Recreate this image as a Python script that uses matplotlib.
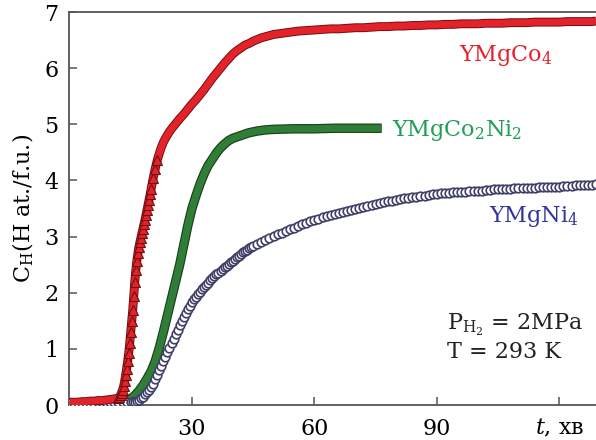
import matplotlib
matplotlib.use("Agg")
import matplotlib.pyplot as plt
import matplotlib.patheffects as pe

plt.rcParams["font.family"] = "DejaVu Serif"
plt.rcParams["mathtext.fontset"] = "dejavuserif"

# YMgCo4 (red triangles), time in min, C_H in H at./f.u.
t_co4 = [0, 1, 2, 3, 4, 5, 6, 7, 8, 9, 10, 11,
         12.0, 12.25, 12.5, 12.75, 13.0, 13.25, 13.5, 13.75, 14.0, 14.25, 14.5, 14.75,
         15.0, 15.25, 15.5, 15.75, 16.0, 16.25, 16.5, 16.75, 17.0, 17.25, 17.5, 17.75,
         18.0, 18.25, 18.5, 18.75, 19.0, 19.25, 19.5, 19.75, 20.0, 20.5, 21, 21.5,
         22, 22.5, 23, 23.5, 24, 24.5, 25, 26, 27, 28, 29, 30, 31, 32, 33, 34, 35,
         36, 37, 38, 39, 40, 41, 42, 43, 44, 45, 46, 47, 48, 49, 50, 52, 54, 56, 58,
         60, 62, 64, 66, 68, 70, 72, 74, 76, 78, 80, 82, 84, 86, 88, 90, 92, 94, 96,
         98, 100, 102, 104, 106, 108, 110, 112, 114, 116, 118, 120, 122, 124, 126, 128, 129]
c_co4 = [0.05, 0.05, 0.05, 0.06, 0.06, 0.07, 0.07, 0.08, 0.08, 0.09, 0.10, 0.11,
         0.12, 0.14, 0.18, 0.22, 0.27, 0.33, 0.42, 0.53, 0.65, 0.78, 0.92, 1.10,
         1.30, 1.50, 1.70, 1.95, 2.20, 2.40, 2.57, 2.70, 2.81, 2.90, 2.98, 3.06,
         3.14, 3.22, 3.30, 3.39, 3.48, 3.57, 3.66, 3.75, 3.85, 4.04, 4.21, 4.36,
         4.48, 4.59, 4.68, 4.75, 4.81, 4.87, 4.92, 5.01, 5.10, 5.18, 5.27, 5.36, 5.44, 5.53, 5.62, 5.72, 5.82,
         5.91, 6.00, 6.09, 6.17, 6.25, 6.31, 6.36, 6.41, 6.44, 6.48, 6.51, 6.54, 6.56, 6.58, 6.60, 6.62, 6.64, 6.66, 6.67,
         6.68, 6.69, 6.70, 6.70, 6.71, 6.72, 6.72, 6.73, 6.74, 6.74, 6.75, 6.75, 6.76, 6.76, 6.77, 6.77, 6.78, 6.78, 6.79,
         6.79, 6.79, 6.80, 6.80, 6.80, 6.81, 6.81, 6.81, 6.82, 6.82, 6.82, 6.82, 6.83, 6.83, 6.83, 6.83, 6.84]

# YMgCo2Ni2 (green)
t_coni = [0, 1, 2, 3, 4, 5, 6, 7, 8, 9, 10, 11, 12, 13, 14, 15, 16, 17, 18, 19, 20,
          21, 22, 23, 24, 25, 26, 27, 28, 29, 30, 31, 32, 33, 34, 35, 36, 37, 38, 39, 40,
          42, 44, 46, 48, 50, 55, 60, 65, 70, 76.5]
c_coni = [0.04, 0.04, 0.04, 0.04, 0.04, 0.05, 0.05, 0.05, 0.05, 0.05, 0.05, 0.05, 0.05, 0.06, 0.07,
          0.11, 0.17, 0.25, 0.35, 0.47, 0.60, 0.78, 1.02, 1.30, 1.60, 1.90, 2.20, 2.50, 2.85,
          3.20, 3.50, 3.73, 3.94, 4.12, 4.27, 4.38, 4.49, 4.58, 4.65, 4.71, 4.75,
          4.80, 4.85, 4.88, 4.90, 4.91, 4.92, 4.92, 4.93, 4.93, 4.93]

# YMgNi4 (open circles)
t_ni4 = [0, 1, 2, 3, 4, 5, 6, 7, 8, 9, 10, 11, 12, 13, 14, 15,
         15.5, 16, 16.5, 17, 17.5, 18, 18.5, 19, 19.5, 20, 20.5, 21, 21.5, 22, 22.5, 23,
         23.5, 24, 24.5, 25, 25.5, 26, 26.5, 27, 27.5, 28, 28.5, 29, 29.5, 30, 30.5, 31,
         31.5, 32, 32.5, 33, 33.5, 34, 34.5, 35, 35.5, 36, 36.5, 37, 37.5, 38, 38.5, 39,
         39.5, 40, 40.5, 41, 41.5, 42, 42.5, 43, 43.5, 44, 44.5, 45,
         46, 47, 48, 49, 50, 51, 52, 53, 54, 55, 56, 57, 58, 59, 60, 61, 62, 63, 64, 65,
         66, 67, 68, 69, 70, 71, 72, 73, 74, 75, 76, 77, 78, 79, 80, 81, 82, 83, 84, 85,
         86, 87, 88, 89, 90, 91, 92, 93, 94, 95, 96, 97, 98, 99, 100, 101, 102, 103, 104,
         105, 106, 107, 108, 109, 110, 111, 112, 113, 114, 115, 116, 117, 118, 119, 120,
         121, 122, 123, 124, 125, 126, 127, 128, 129]
c_ni4 = [0.03, 0.03, 0.03, 0.04, 0.04, 0.04, 0.04, 0.05, 0.05, 0.05, 0.05, 0.05, 0.05, 0.05, 0.05, 0.05,
         0.05, 0.06, 0.07, 0.09, 0.12, 0.15, 0.19, 0.23, 0.27, 0.32, 0.38, 0.46, 0.54, 0.62, 0.70, 0.78,
         0.86, 0.94, 1.02, 1.10, 1.18, 1.26, 1.34, 1.42, 1.50, 1.57, 1.64, 1.71, 1.77, 1.83, 1.88, 1.93,
         1.98, 2.02, 2.06, 2.10, 2.14, 2.18, 2.22, 2.26, 2.29, 2.33, 2.36, 2.39, 2.42, 2.45, 2.48, 2.51,
         2.54, 2.57, 2.60, 2.63, 2.66, 2.69, 2.72, 2.75, 2.77, 2.79, 2.81, 2.83,
         2.86, 2.90, 2.94, 2.98, 3.01, 3.04, 3.07, 3.10, 3.13, 3.16, 3.19, 3.22, 3.25, 3.28, 3.30, 3.32, 3.34, 3.36, 3.38, 3.40,
         3.42, 3.43, 3.45, 3.47, 3.49, 3.51, 3.53, 3.55, 3.56, 3.58, 3.60, 3.61, 3.63, 3.64, 3.66, 3.67, 3.68, 3.69, 3.70, 3.71,
         3.72, 3.73, 3.74, 3.75, 3.76, 3.77, 3.77, 3.78, 3.79, 3.79, 3.80, 3.80, 3.81, 3.81, 3.82, 3.82, 3.83, 3.83, 3.84,
         3.84, 3.85, 3.85, 3.85, 3.86, 3.86, 3.86, 3.87, 3.87, 3.87, 3.88, 3.88, 3.88, 3.89, 3.89, 3.89,
         3.90, 3.90, 3.90, 3.91, 3.91, 3.91, 3.92, 3.92, 3.93]

xticks = [30, 60, 90, 120]
xticklabels = ["30", "60", "90", "$t$, хв"]

fig = plt.figure(figsize=(5.96, 4.40), dpi=100)
ax = fig.add_axes([0.1166, 0.0795, 0.8834, 0.8932])

# green: thick band with dark outline
ax.plot(t_coni, c_coni, color="#2f7d36", lw=5.2, solid_capstyle="butt", zorder=2,
        path_effects=[pe.Stroke(linewidth=6.8, foreground="#173d19"), pe.Normal()])

# blue: open circles
ax.plot(t_ni4, c_ni4, ls="none", marker="o", ms=6.2, mfc="white", mec="#3f3f68", mew=1.2, zorder=3)

# red: thick band, triangles visible on the steep rise
ax.plot(t_co4, c_co4, color="#e3222a", lw=5.0, solid_capstyle="butt", zorder=4,
        path_effects=[pe.Stroke(linewidth=6.4, foreground="#6e1014"), pe.Normal()])
ax.plot(t_co4[12:48], c_co4[12:48], ls="none", marker="^", ms=6.5, mfc="#e3222a",
        mec="#6e1014", mew=0.8, zorder=5)

ax.set_xlim(0, 129)
ax.set_ylim(0, 7)
ax.set_xticks(xticks)
ax.set_xticklabels(xticklabels)
ax.set_yticks(range(0, 8))
ax.tick_params(direction="in", length=6, width=1.1, color="#555555", labelsize=16, pad=8)
ax.tick_params(axis="x", pad=9)
for s in ["left", "bottom", "top"]:
    ax.spines[s].set_color("#555555")
    ax.spines[s].set_linewidth(1.3)
ax.spines["right"].set_visible(False)

ax.set_ylabel(r"C$_\mathrm{H}$(H at./f.u.)", fontsize=16, labelpad=6)

ax.text(106.9, 6.23, "YMgCo$_4$", color="#e8202a", fontsize=16, ha="center", va="center")
ax.text(79, 4.89, "YMgCo$_2$Ni$_2$", color="#1f9e55", fontsize=16, ha="left", va="center")
ax.text(113.8, 3.36, "YMgNi$_4$", color="#34359a", fontsize=16, ha="center", va="center")
ax.text(92.5, 1.42, r"P$_{\mathrm{H}_2}$ = 2MPa", color="#222222", fontsize=16, ha="left", va="center")
ax.text(92.5, 0.94, "T = 293 K", color="#222222", fontsize=16, ha="left", va="center")

fig.savefig("out.png", dpi=100)
